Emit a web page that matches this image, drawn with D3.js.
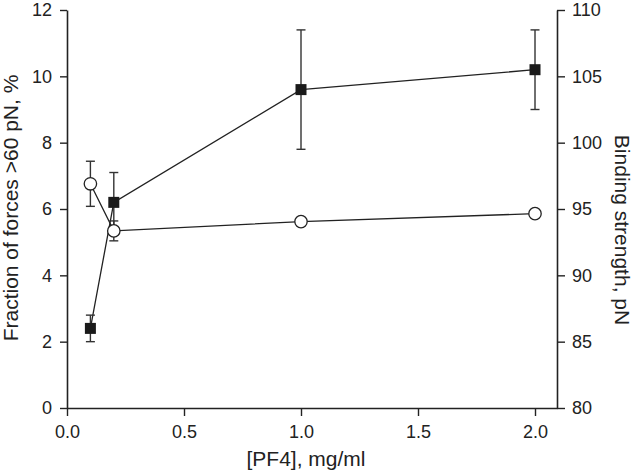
<!DOCTYPE html>
<html><head><meta charset="utf-8">
<script src="https://cdn.jsdelivr.net/npm/d3@7"></script>
<style>
html,body{margin:0;padding:0;background:#fff;}
text{font-family:"Liberation Sans",Arial,sans-serif;fill:#222;}
</style></head>
<body><svg id="c" width="633" height="474"></svg>
<script>
// Data
const conc = [0.1, 0.2, 1.0, 2.0];
const fraction = [2.4, 6.2, 9.6, 10.2];      // left axis, %
const fractionErr = [0.4, 0.9, 1.8, 1.2];
const strength = [96.9, 93.35, 94.05, 94.65]; // right axis, pN
const strengthErr = [1.7, 0.75, 0.2, 0.25];
const xTicks = [0.0, 0.5, 1.0, 1.5, 2.0];
const yLeftTicks = [0, 2, 4, 6, 8, 10, 12];
const yRightTicks = [80, 85, 90, 95, 100, 105, 110];

const svg = d3.select("#c");
const x = d3.scaleLinear().domain([0, 2.094]).range([67, 557]);
const yL = d3.scaleLinear().domain([0, 12]).range([408, 10]);
const yR = d3.scaleLinear().domain([80, 110]).range([408, 10]);
const ink = "#222";
const fs = "18px";
const tfs = "21px";

function styleAxis(g){
  g.selectAll("path.domain").attr("stroke", ink).attr("stroke-width", 1.6);
  g.selectAll(".tick line").attr("stroke", ink).attr("stroke-width", 1.4);
  g.selectAll(".tick text").style("font-size", fs).attr("fill", ink);
}

svg.append("g").attr("transform","translate(0,408)")
  .call(d3.axisBottom(x).tickValues(xTicks).tickFormat(d3.format(".1f")).tickSizeInner(8).tickSizeOuter(0).tickPadding(9))
  .call(styleAxis);
svg.append("g").attr("transform","translate(67,0)")
  .call(d3.axisLeft(yL).tickValues(yLeftTicks).tickFormat(d3.format("d")).tickSizeInner(7).tickSizeOuter(0).tickPadding(8))
  .call(styleAxis);
svg.append("g").attr("transform","translate(557,0)")
  .call(d3.axisRight(yR).tickValues(yRightTicks).tickFormat(d3.format("d")).tickSizeInner(8).tickSizeOuter(0).tickPadding(7))
  .call(styleAxis);

// lines
const lineL = d3.line().x((d,i)=>x(conc[i])).y(d=>yL(d));
const lineR = d3.line().x((d,i)=>x(conc[i])).y(d=>yR(d));
svg.append("path").attr("d", lineR(strength)).attr("fill","none").attr("stroke",ink).attr("stroke-width",1.3);
svg.append("path").attr("d", lineL(fraction)).attr("fill","none").attr("stroke",ink).attr("stroke-width",1.3);

function errBars(vals, errs, y){
  const g = svg.append("g").attr("stroke","#333").attr("stroke-width",1.4);
  vals.forEach((v,i)=>{
    const cx = x(conc[i]);
    g.append("line").attr("x1",cx).attr("x2",cx).attr("y1",y(v-errs[i])).attr("y2",y(v+errs[i]));
    [v-errs[i], v+errs[i]].forEach(e=>{
      g.append("line").attr("x1",cx-4.5).attr("x2",cx+4.5).attr("y1",y(e)).attr("y2",y(e));
    });
  });
}
errBars(strength, strengthErr, yR);
errBars(fraction, fractionErr, yL);

// circles
svg.append("g").selectAll("circle").data(strength).join("circle")
  .attr("cx",(d,i)=>x(conc[i])).attr("cy",d=>yR(d)).attr("r",6.2)
  .attr("fill","#fff").attr("stroke",ink).attr("stroke-width",1.3);
// squares
svg.append("g").selectAll("rect").data(fraction).join("rect")
  .attr("x",(d,i)=>x(conc[i])-5.5).attr("y",d=>yL(d)-5.5).attr("width",11).attr("height",11)
  .attr("fill","#1a1a1a");

// titles
svg.append("text").attr("x",306).attr("y",466).attr("text-anchor","middle")
  .style("font-size",tfs).text("[PF4], mg/ml");
svg.append("text").attr("transform","translate(18,208) rotate(-90)").attr("text-anchor","middle")
  .style("font-size",tfs).text("Fraction of forces >60 pN, %");
svg.append("text").attr("transform","translate(615,230) rotate(90)").attr("text-anchor","middle")
  .style("font-size",tfs).text("Binding strength, pN");
</script></body></html>
